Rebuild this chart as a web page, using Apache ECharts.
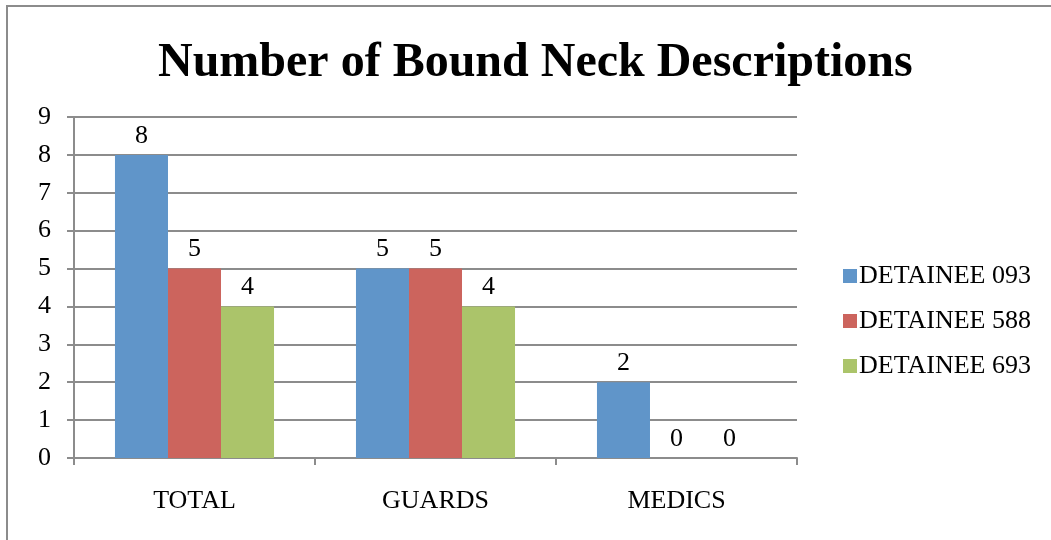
<!DOCTYPE html>
<html>
<head>
<meta charset="utf-8">
<script src="https://cdn.jsdelivr.net/npm/echarts@6/dist/echarts.min.js"></script>
<style>
  html, body { margin: 0; padding: 0; background: #fff; }
  #main { width: 1051px; height: 540px; }
</style>
</head>
<body>
<div id="main"></div>
<script>
const categories = ['TOTAL', 'GUARDS', 'MEDICS'];
const detainee093 = [8, 5, 2];
const detainee588 = [5, 5, 0];
const detainee693 = [4, 4, 0];
const seriesNames = ['DETAINEE 093', 'DETAINEE 588', 'DETAINEE 693'];

const font = 'Liberation Serif, Times New Roman, serif';
let myChart = echarts.init(document.getElementById('main'));

const label = {
  show: true,
  position: 'top',
  distance: 6,
  color: '#000',
  fontFamily: font,
  fontSize: 26
};

let option = {
  animation: false,
  textStyle: { fontFamily: font },
  graphic: [{
    type: 'rect',
    shape: { x: 7, y: 6, width: 1200, height: 700 },
    style: { fill: 'none', stroke: '#8c8c8c', lineWidth: 2 },
    silent: true
  }],
  title: {
    text: 'Number of Bound Neck Descriptions',
    left: 153,
    top: 35,
    textStyle: { fontFamily: font, fontSize: 48, fontWeight: 'bold', color: '#000' }
  },
  legend: {
    orient: 'vertical',
    left: 838,
    top: 258,
    itemWidth: 14,
    itemHeight: 14,
    itemGap: 19,
    icon: 'rect',
    textStyle: { fontFamily: font, fontSize: 26, color: '#000', padding: [0, 0, 0, -3] },
    data: seriesNames
  },
  grid: { left: 74, right: 254, top: 117, bottom: 82 },
  xAxis: {
    type: 'category',
    data: categories,
    axisLine: { lineStyle: { color: '#8c8c8c', width: 2 } },
    axisTick: { show: true, length: 7, lineStyle: { color: '#8c8c8c', width: 2 } },
    axisLabel: { color: '#000', fontFamily: font, fontSize: 26, margin: 30 }
  },
  yAxis: {
    type: 'value',
    min: 0,
    max: 9,
    interval: 1,
    axisLine: { show: true, lineStyle: { color: '#8c8c8c', width: 2 } },
    axisTick: { show: true, length: 7, lineStyle: { color: '#8c8c8c', width: 2 } },
    splitLine: { lineStyle: { color: '#8c8c8c', width: 2 } },
    axisLabel: { color: '#000', fontFamily: font, fontSize: 26, margin: 23 }
  },
  series: [
    { name: seriesNames[0], type: 'bar', data: detainee093, barGap: '0%', barCategoryGap: '34%',
      itemStyle: { color: '#6095C9' }, label: label },
    { name: seriesNames[1], type: 'bar', data: detainee588, barGap: '0%', barCategoryGap: '34%',
      itemStyle: { color: '#CC645D' }, label: label },
    { name: seriesNames[2], type: 'bar', data: detainee693, barGap: '0%', barCategoryGap: '34%',
      itemStyle: { color: '#ABC46A' }, label: label }
  ]
};

option && myChart.setOption(option);
</script>
</body>
</html>
